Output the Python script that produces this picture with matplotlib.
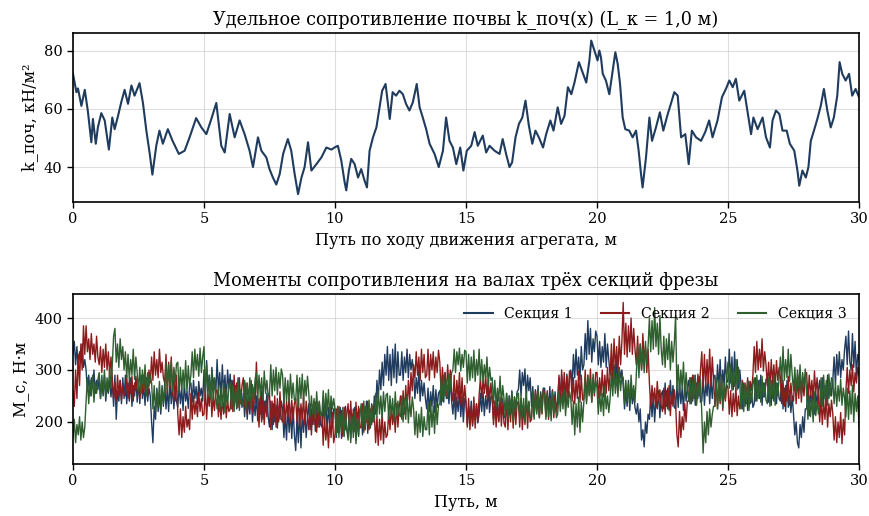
import numpy as np
import matplotlib.pyplot as plt

plt.rcParams['font.family'] = 'DejaVu Serif'

# удельное сопротивление почвы вдоль пути
soil_x = [
    0, 0.13, 0.19, 0.32, 0.45, 0.57, 0.70, 0.76, 0.87, 0.95,
    1.08, 1.21, 1.37, 1.50, 1.59, 1.72, 1.84, 1.97, 2.10, 2.23,
    2.35, 2.54, 2.67, 2.80, 2.93, 3.03, 3.18, 3.30, 3.43, 3.62,
    3.80, 4.04, 4.26, 4.45, 4.70, 4.90, 5.09, 5.28, 5.47, 5.66,
    5.79, 5.98, 6.17, 6.36, 6.55, 6.74, 6.87, 7.06, 7.19, 7.38,
    7.50, 7.63, 7.76, 7.89, 8.02, 8.20, 8.33, 8.46, 8.59, 8.72,
    8.84, 8.97, 9.10, 9.29, 9.48, 9.67, 9.86, 10.0, 10.11, 10.24,
    10.37, 10.43, 10.53, 10.62, 10.75, 10.88, 11.0, 11.13, 11.22, 11.32,
    11.45, 11.58, 11.68, 11.80, 11.93, 12.09, 12.20, 12.33, 12.46, 12.59,
    12.71, 12.84, 12.97, 13.12, 13.23, 13.35, 13.48, 13.61, 13.80, 13.96,
    14.12, 14.24, 14.37, 14.50, 14.63, 14.78, 14.90, 15.03, 15.20, 15.33,
    15.45, 15.64, 15.77, 15.90, 16.09, 16.28, 16.40, 16.53, 16.66, 16.76,
    16.89, 17.02, 17.15, 17.27, 17.40, 17.53, 17.65, 17.78, 17.94, 18.06,
    18.22, 18.34, 18.50, 18.63, 18.76, 18.89, 19.02, 19.14, 19.31, 19.43,
    19.59, 19.71, 19.78, 19.90, 20.02, 20.09, 20.15, 20.22, 20.34, 20.47,
    20.60, 20.70, 20.79, 20.88, 20.98, 21.08, 21.23, 21.36, 21.49, 21.59,
    21.68, 21.74, 21.87, 22.0, 22.10, 22.25, 22.40, 22.53, 22.70, 22.82,
    22.95, 23.08, 23.21, 23.37, 23.50, 23.62, 23.78, 23.97, 24.13, 24.28,
    24.41, 24.60, 24.77, 24.92, 25.05, 25.18, 25.30, 25.43, 25.62, 25.75,
    25.88, 25.97, 26.13, 26.32, 26.45, 26.60, 26.70, 26.83, 26.96, 27.08,
    27.24, 27.36, 27.53, 27.65, 27.72, 27.84, 27.97, 28.07, 28.16, 28.28,
    28.41, 28.54, 28.66, 28.79, 28.92, 29.04, 29.17, 29.26, 29.36, 29.49,
    29.62, 29.74, 29.87, 30.0,
]
soil_k = [
    72, 65.7, 67, 61, 66.5, 59, 48.5, 56.5, 48, 53.6,
    58.5, 56, 46, 57, 53, 57.6, 62.2, 66.5, 61.7, 68,
    64.5, 68.8, 62, 52.5, 44.5, 37.4, 47.4, 52.5, 48, 53,
    49, 44.5, 45.6, 50.2, 56.8, 53.6, 51.3, 56.5, 62, 47.3,
    45, 58.2, 50.2, 56, 51.3, 45.6, 40, 50.2, 45.6, 43.3,
    39.3, 36.4, 34, 37.6, 44.5, 49.6, 45.6, 37.6, 30.7, 36.4,
    40, 48.5, 38.8, 41, 43.3, 46.7, 46, 46.8, 47.3, 42.2,
    34.7, 32, 38.8, 42.8, 41, 36.4, 39.3, 35.3, 33, 45.6,
    50.2, 53.6, 59.4, 66.2, 68.5, 56.5, 65.7, 64.5, 66.2, 65,
    61.7, 59.4, 62.2, 68.5, 60.5, 57, 53, 48, 44.5, 40,
    45.6, 57, 49, 46.7, 41, 46.7, 38.8, 45.6, 47.3, 52,
    47.3, 50.8, 45, 47.3, 45.6, 44.5, 49.6, 44.5, 40, 41.6,
    50.2, 54.8, 57, 62.8, 54.2, 48, 52.5, 50.2, 46.7, 51.3,
    56, 52.5, 60.5, 54.8, 57.6, 67.4, 65, 69, 76, 73,
    69, 76.6, 83.4, 80, 76.6, 80, 77.7, 72, 69.7, 65,
    73, 79.4, 75.4, 68.5, 57, 53, 52.5, 50.2, 52.5, 45.6,
    37.6, 33, 43.3, 57, 49, 53.6, 58.8, 52.5, 58.2, 61.7,
    65.7, 64.5, 50.2, 51.3, 41, 52.5, 50.2, 49, 52, 56,
    50.2, 56, 64, 66.8, 69.7, 67.4, 70.3, 62.8, 66.2, 58.8,
    51.3, 57, 53, 57, 50.2, 46.7, 56, 59.4, 58.2, 52.5,
    52.5, 48, 45.6, 38.8, 33.6, 38.8, 36.4, 40, 49, 52.5,
    56.5, 61, 66.8, 59.4, 53.6, 57, 64.5, 76, 72, 69.7,
    72, 64.5, 66.8, 64,
]

# моменты на валах секций, шаг 0.05 м (одна строка = 0.5 м пути)
sec1 = [
    330, 355, 310, 345, 300, 335, 315, 350, 305, 320,
    300, 260, 290, 250, 285, 265, 300, 255, 280, 262,
    285, 245, 275, 250, 290, 240, 270, 255, 285, 248,
    275, 230, 290, 205, 260, 240, 280, 235, 285, 245,
    290, 235, 275, 240, 285, 230, 270, 250, 288, 238,
    280, 235, 290, 245, 270, 232, 285, 240, 265, 250,
    200, 160, 230, 205, 265, 220, 255, 215, 270, 230,
    275, 225, 265, 220, 280, 235, 270, 225, 260, 240,
    228, 272, 235, 265, 222, 275, 240, 258, 226, 270,
    275, 238, 280, 245, 268, 235, 278, 250, 265, 240,
    300, 250, 318, 262, 290, 245, 305, 270, 285, 255,
    320, 260, 295, 245, 310, 255, 290, 240, 300, 265,
    292, 240, 280, 230, 270, 225, 285, 235, 260, 228,
    255, 210, 250, 205, 245, 215, 258, 200, 240, 212,
    250, 202, 245, 215, 260, 205, 240, 220, 255, 210,
    190, 240, 185, 235, 200, 232, 188, 228, 205, 240,
    225, 170, 215, 165, 230, 180, 220, 168, 228, 175,
    145, 210, 160, 225, 150, 215, 180, 222, 170, 210,
    235, 185, 225, 195, 240, 182, 230, 190, 238, 195,
    190, 232, 200, 238, 185, 228, 195, 240, 188, 225,
    225, 170, 215, 180, 228, 168, 220, 175, 230, 185,
    175, 222, 168, 215, 180, 228, 165, 218, 172, 225,
    220, 175, 230, 185, 240, 178, 225, 190, 235, 200,
    250, 215, 280, 240, 300, 262, 315, 270, 330, 290,
    345, 280, 330, 270, 340, 285, 350, 275, 335, 290,
    290, 335, 280, 325, 295, 340, 285, 330, 300, 320,
    295, 245, 285, 255, 300, 240, 280, 250, 275, 245,
    225, 265, 220, 258, 230, 270, 218, 262, 228, 255,
    260, 232, 280, 238, 295, 245, 270, 235, 285, 240,
    215, 255, 205, 248, 220, 260, 210, 250, 200, 245,
    238, 195, 230, 200, 240, 192, 228, 205, 235, 198,
    215, 255, 220, 258, 212, 250, 225, 260, 218, 248,
    250, 205, 240, 210, 248, 202, 238, 215, 245, 208,
    210, 255, 205, 250, 215, 260, 208, 248, 225, 258,
    262, 300, 250, 295, 270, 302, 245, 290, 260, 285,
    230, 268, 215, 262, 225, 270, 212, 258, 235, 265,
    265, 218, 255, 225, 268, 215, 260, 228, 258, 222,
    240, 285, 245, 290, 238, 280, 250, 292, 245, 282,
    300, 270, 330, 285, 340, 290, 325, 280, 345, 300,
    310, 370, 320, 395, 330, 380, 315, 360, 335, 375,
    365, 310, 355, 305, 345, 315, 370, 305, 350, 320,
    290, 320, 275, 310, 280, 318, 270, 305, 285, 300,
    270, 225, 260, 230, 280, 222, 265, 235, 255, 228,
    215, 235, 200, 225, 165, 185, 152, 200, 178, 215,
    205, 250, 210, 255, 200, 245, 225, 260, 208, 252,
    260, 225, 275, 230, 265, 222, 280, 235, 270, 228,
    225, 270, 228, 278, 235, 265, 222, 275, 240, 268,
    280, 235, 285, 240, 290, 232, 275, 245, 288, 238,
    240, 285, 232, 275, 250, 290, 235, 280, 245, 285,
    290, 255, 310, 265, 320, 258, 300, 270, 325, 275,
    280, 340, 275, 325, 262, 335, 270, 320, 265, 300,
    270, 225, 275, 230, 262, 222, 278, 235, 255, 228,
    235, 285, 240, 280, 245, 290, 232, 275, 248, 282,
    285, 238, 270, 232, 280, 240, 290, 235, 275, 245,
    240, 290, 225, 265, 220, 280, 228, 260, 218, 250,
    215, 175, 200, 160, 150, 195, 170, 210, 180, 225,
    225, 265, 212, 258, 230, 270, 215, 255, 235, 262,
    280, 235, 285, 240, 270, 232, 290, 245, 275, 250,
    280, 325, 272, 330, 290, 335, 285, 320, 300, 340,
    365, 310, 375, 315, 300, 370, 305, 355, 290, 330,
    320,
]
sec2 = [
    260, 230, 300, 245, 330, 270, 350, 300, 385, 330,
    385, 335, 360, 320, 370, 330, 350, 315, 365, 325,
    310, 345, 295, 340, 305, 350, 300, 335, 290, 325,
    285, 245, 275, 240, 290, 250, 280, 242, 270, 255,
    250, 290, 245, 280, 255, 288, 240, 275, 260, 285,
    270, 245, 285, 255, 290, 260, 280, 250, 300, 275,
    325, 280, 335, 290, 320, 285, 340, 295, 315, 285,
    275, 330, 255, 315, 265, 325, 250, 300, 240, 290,
    215, 175, 225, 170, 210, 180, 230, 190, 205, 185,
    255, 205, 250, 215, 240, 210, 258, 220, 245, 212,
    215, 265, 205, 255, 230, 270, 210, 250, 222, 262,
    260, 210, 250, 205, 245, 215, 265, 208, 240, 220,
    225, 280, 220, 290, 240, 275, 228, 285, 235, 270,
    285, 230, 275, 215, 260, 225, 280, 218, 265, 235,
    315, 245, 190, 250, 200, 255, 195, 240, 210, 250,
    255, 185, 240, 195, 250, 190, 245, 200, 258, 205,
    200, 245, 195, 240, 210, 250, 198, 242, 205, 235,
    245, 200, 250, 190, 235, 205, 248, 195, 240, 210,
    185, 235, 175, 225, 195, 238, 180, 228, 190, 220,
    215, 155, 210, 165, 200, 150, 205, 170, 218, 160,
    175, 225, 180, 230, 190, 222, 172, 228, 185, 215,
    235, 185, 240, 190, 225, 182, 238, 195, 230, 188,
    190, 235, 180, 230, 200, 240, 185, 225, 195, 232,
    215, 160, 210, 155, 205, 165, 218, 158, 200, 170,
    175, 220, 185, 230, 195, 225, 180, 235, 190, 228,
    250, 205, 260, 215, 270, 225, 280, 240, 295, 260,
    310, 285, 335, 290, 325, 280, 340, 295, 330, 285,
    290, 340, 280, 330, 300, 335, 285, 325, 295, 338,
    315, 255, 305, 260, 295, 250, 310, 265, 300, 258,
    240, 290, 230, 280, 245, 295, 235, 285, 228, 270,
    240, 190, 245, 185, 230, 195, 248, 188, 235, 200,
    250, 285, 245, 280, 255, 290, 248, 282, 240, 275,
    245, 195, 240, 190, 235, 200, 248, 192, 238, 198,
    190, 245, 185, 240, 200, 250, 188, 242, 195, 235,
    240, 190, 245, 185, 230, 195, 250, 188, 238, 200,
    205, 255, 210, 260, 220, 258, 208, 252, 215, 262,
    255, 210, 260, 205, 245, 215, 262, 208, 250, 218,
    240, 290, 235, 300, 250, 295, 238, 288, 245, 298,
    295, 240, 285, 235, 280, 245, 298, 238, 290, 242,
    245, 300, 240, 290, 255, 302, 238, 285, 250, 295,
    295, 245, 285, 250, 300, 248, 290, 255, 305, 260,
    290, 350, 285, 360, 300, 345, 295, 365, 310, 355,
    430, 330, 390, 325, 385, 335, 400, 330, 380, 340,
    310, 365, 305, 350, 300, 370, 315, 345, 295, 340,
    275, 230, 270, 235, 265, 228, 278, 240, 262, 232,
    220, 265, 215, 260, 225, 270, 212, 255, 230, 262,
    235, 175, 152, 220, 170, 210, 185, 235, 200, 240,
    240, 285, 235, 290, 245, 280, 238, 292, 250, 300,
    335, 265, 330, 270, 320, 275, 340, 268, 325, 280,
    230, 275, 225, 270, 235, 280, 222, 265, 240, 272,
    265, 215, 260, 210, 255, 220, 268, 212, 250, 225,
    235, 280, 240, 275, 250, 285, 238, 278, 260, 290,
    345, 295, 355, 300, 340, 305, 360, 298, 335, 310,
    270, 315, 265, 320, 275, 310, 268, 318, 280, 305,
    285, 235, 280, 230, 270, 240, 288, 232, 275, 245,
    240, 290, 235, 285, 245, 292, 238, 280, 250, 288,
    295, 245, 290, 250, 280, 242, 298, 255, 285, 248,
    200, 245, 195, 240, 205, 250, 190, 235, 210, 242,
    215, 165, 210, 160, 200, 170, 218, 158, 205, 175,
    260, 305, 255, 300, 270, 310, 258, 295, 275, 305,
    290,
]
sec3 = [
    170, 205, 160, 195, 175, 210, 165, 200, 170, 190,
    240, 285, 235, 280, 250, 290, 238, 275, 255, 282,
    295, 245, 290, 255, 300, 248, 285, 260, 305, 265,
    310, 365, 380, 315, 350, 305, 360, 320, 345, 300,
    335, 285, 330, 280, 320, 290, 340, 282, 325, 295,
    260, 305, 255, 300, 265, 310, 250, 295, 268, 290,
    275, 225, 270, 220, 260, 230, 278, 222, 265, 235,
    255, 315, 260, 310, 270, 318, 258, 305, 275, 312,
    315, 255, 305, 260, 300, 265, 318, 258, 308, 270,
    290, 335, 285, 340, 300, 330, 288, 342, 295, 325,
    345, 255, 310, 250, 290, 245, 300, 240, 285, 250,
    225, 270, 220, 265, 230, 275, 218, 262, 232, 268,
    275, 225, 270, 220, 265, 228, 280, 222, 262, 235,
    230, 280, 225, 275, 240, 285, 228, 272, 245, 282,
    295, 245, 290, 250, 285, 242, 298, 255, 280, 250,
    255, 310, 250, 300, 260, 305, 252, 295, 265, 302,
    290, 235, 285, 240, 280, 238, 292, 245, 275, 242,
    240, 290, 230, 285, 245, 292, 235, 280, 250, 288,
    255, 210, 250, 215, 245, 205, 258, 218, 240, 212,
    215, 260, 210, 255, 220, 262, 208, 250, 225, 245,
    225, 175, 230, 170, 215, 180, 228, 172, 220, 185,
    165, 215, 160, 210, 170, 220, 158, 205, 175, 215,
    235, 190, 240, 185, 230, 195, 242, 188, 232, 200,
    205, 255, 210, 260, 215, 250, 208, 258, 220, 252,
    255, 205, 250, 210, 245, 200, 258, 212, 240, 215,
    210, 250, 200, 245, 205, 252, 198, 240, 210, 248,
    225, 175, 220, 170, 215, 180, 228, 172, 210, 185,
    185, 235, 175, 240, 190, 230, 178, 238, 195, 232,
    235, 285, 240, 290, 250, 280, 245, 292, 260, 295,
    300, 340, 295, 335, 310, 342, 298, 330, 305, 338,
    335, 275, 330, 280, 325, 285, 338, 278, 320, 290,
    340, 280, 320, 275, 310, 285, 325, 270, 305, 280,
    285, 235, 280, 230, 265, 240, 288, 232, 270, 245,
    210, 255, 205, 250, 215, 258, 202, 248, 220, 255,
    255, 205, 250, 210, 245, 200, 258, 212, 240, 208,
    210, 260, 205, 255, 215, 262, 208, 250, 218, 258,
    250, 205, 255, 210, 245, 202, 258, 215, 240, 208,
    215, 260, 220, 255, 225, 262, 212, 250, 228, 258,
    245, 195, 240, 175, 235, 190, 248, 180, 238, 200,
    240, 285, 235, 290, 250, 282, 238, 292, 255, 280,
    265, 215, 260, 220, 255, 212, 268, 225, 250, 218,
    245, 295, 250, 300, 255, 292, 248, 302, 260, 290,
    285, 235, 280, 240, 275, 232, 290, 245, 270, 238,
    290, 345, 285, 350, 300, 340, 295, 355, 310, 345,
    400, 335, 395, 340, 420, 345, 390, 330, 405, 340,
    310, 365, 305, 360, 320, 370, 300, 355, 315, 350,
    405, 260, 310, 255, 300, 265, 315, 250, 295, 260,
    240, 285, 235, 280, 245, 290, 232, 275, 250, 282,
    215, 140, 200, 160, 220, 175, 225, 190, 215, 230,
    230, 285, 225, 280, 240, 290, 228, 275, 245, 288,
    315, 265, 310, 260, 300, 268, 320, 262, 305, 270,
    225, 275, 220, 270, 235, 280, 222, 265, 238, 272,
    285, 240, 290, 245, 280, 238, 288, 248, 275, 242,
    235, 285, 230, 280, 245, 290, 232, 275, 250, 285,
    325, 275, 345, 280, 320, 285, 340, 278, 330, 290,
    260, 305, 255, 300, 265, 310, 252, 295, 268, 302,
    255, 205, 250, 210, 245, 200, 258, 212, 240, 215,
    235, 285, 230, 290, 245, 280, 232, 292, 250, 285,
    280, 235, 275, 230, 270, 240, 282, 232, 265, 245,
    210, 265, 205, 260, 215, 270, 200, 255, 220, 250,
    190,
]
sections = ['Секция 1', 'Секция 2', 'Секция 3']
colors = ['#1f3b5e', '#8c1c1c', '#2f5f2f']

path_m = np.linspace(0, 30, len(sec1))

fig = plt.figure(figsize=(8.69, 5.16), dpi=100)
ax1 = fig.add_axes([0.084, 0.6085, 0.9045, 0.3275])
ax2 = fig.add_axes([0.084, 0.1008, 0.9045, 0.3292])

ax1.plot(soil_x, soil_k, color=colors[0], lw=1.5)
ax1.set_xlim(0, 30)
ax1.set_ylim(28, 86)
ax1.set_yticks([40, 60, 80])
ax1.set_title('Удельное сопротивление почвы k_поч(x) (L_к = 1,0 м)', fontsize=12.7)
ax1.set_xlabel('Путь по ходу движения агрегата, м', fontsize=11.5)
ax1.set_ylabel('k_поч, кН/м²', fontsize=11.5)

for vals, name, c in zip([sec1, sec2, sec3], sections, colors):
    ax2.plot(path_m, vals, color=c, lw=1.0, label=name)
ax2.set_xlim(0, 30)
ax2.set_ylim(119, 446)
ax2.set_yticks([200, 300, 400])
ax2.set_title('Моменты сопротивления на валах трёх секций фрезы', fontsize=12.7)
ax2.set_xlabel('Путь, м', fontsize=11.5)
ax2.set_ylabel('M_с, Н·м', fontsize=11.5)
leg = ax2.legend(loc='upper right', ncol=3, frameon=False, fontsize=10.2,
                 handlelength=2.0, columnspacing=2.0)
for line in leg.get_lines():
    line.set_linewidth(1.5)

for ax in (ax1, ax2):
    ax.set_xticks([0, 5, 10, 15, 20, 25, 30])
    ax.grid(color='#d0d0d0', lw=0.8, alpha=0.7)
    ax.tick_params(labelsize=10.5, width=1.0, length=4)
    for sp in ax.spines.values():
        sp.set_linewidth(1.2)

fig.savefig('out.png', dpi=100)
